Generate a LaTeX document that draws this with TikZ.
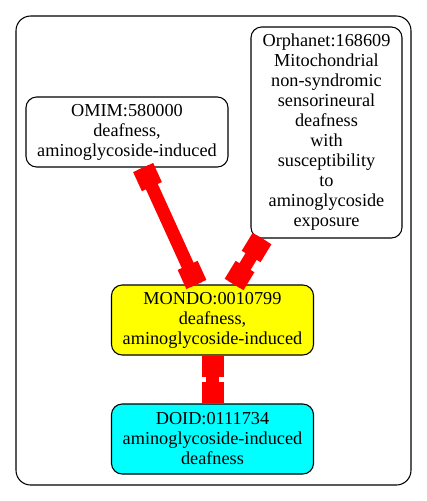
\documentclass[tikz,border=0pt]{standalone}
\usepackage{fontspec}
\setmainfont{Liberation Serif}
\newfontfamily\tnr{Liberation Serif}
\usetikzlibrary{calc}
\definecolor{nodecyan}{RGB}{0,255,255}
\definecolor{nodeyellow}{RGB}{255,255,0}
\definecolor{edgered}{RGB}{255,0,0}
\begin{document}
\begin{tikzpicture}[x=0.75pt,y=-0.75pt,
  box/.style={draw=black, line width=0.8pt, rounded corners=8pt, align=center, inner sep=0pt,
    font=\tnr\fontsize{13.7pt}{15pt}\selectfont},
  wide/.style={box, minimum width=151.5pt, minimum height=52.5pt},
  edge/.style={draw=edgered, line width=9.75pt, line cap=butt},
  teeblock/.style={draw=edgered, line width=16.5pt, line cap=butt}]
\useasboundingbox (0,0) rectangle (427,501);
\draw[line width=0.8pt, rounded corners=11pt] (16,16) rectangle (411,485);

\node[wide] (omim) at (127,132) {OMIM:580000\\deafness,\\aminoglycoside-induced};
\node[box, minimum width=113.25pt, minimum height=158.25pt] (orpha) at (326.5,132.5)
  {Orphanet:168609\\Mitochondrial\\non-syndromic\\sensorineural\\deafness\\with\\susceptibility\\to\\aminoglycoside\\exposure};
\node[wide, fill=nodeyellow] (mondo) at (212.5,320) {MONDO:0010799\\deafness,\\aminoglycoside-induced};
\node[wide, fill=nodecyan] (doid) at (212.5,439) {DOID:0111734\\aminoglycoside-induced\\deafness};

\path (omim) -- (mondo) coordinate[pos=0] (e1s) coordinate[pos=1] (e1t);
\path (orpha) -- (mondo) coordinate[pos=0] (e2s) coordinate[pos=1] (e2t);
\path (mondo) -- (doid) coordinate[pos=0] (e3s) coordinate[pos=1] (e3t);

\draw[edge] (omim) -- (mondo);
\draw[edge] (orpha) -- (mondo);
\draw[edge] (mondo) -- (doid);

\foreach \s/\t in {e1s/e1t, e2s/e2t, e3s/e3t}{
  \draw[teeblock] (\s) -- ($(\s)!15.75pt!(\t)$);
  \draw[teeblock] (\t) -- ($(\t)!15.75pt!(\s)$);
}
\end{tikzpicture}
\end{document}
